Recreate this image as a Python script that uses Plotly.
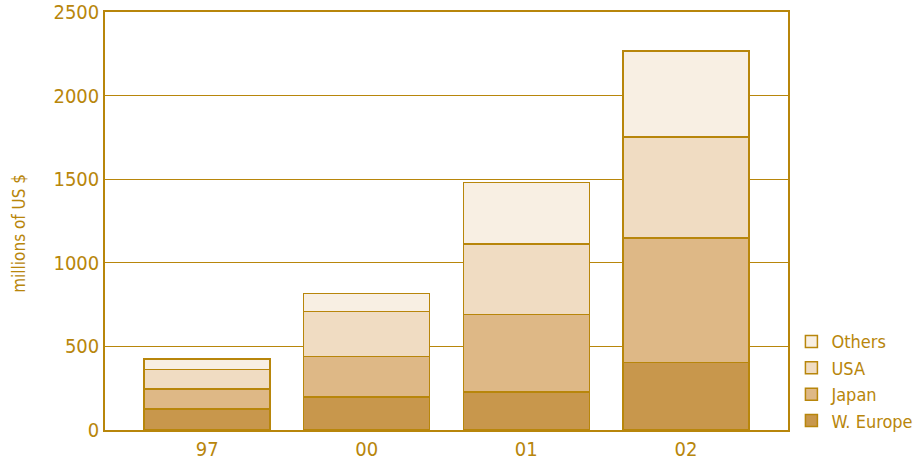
import plotly.graph_objects as go

# data
years = ["97", "00", "01", "02"]
w_europe = [125, 197, 227, 405]
japan = [120, 244, 465, 743]
usa = [118, 269, 419, 604]
others = [63, 105, 368, 515]

GOLD = "#B8860B"
FONT = "DejaVu Sans Condensed, Liberation Sans Narrow, Arial Narrow, sans-serif"
series = [
    ("W. Europe", w_europe, "#C8974C"),
    ("Japan", japan, "#DEB886"),
    ("USA", usa, "#F0DCC2"),
    ("Others", others, "#F8EFE3"),
]

fig = go.Figure()
for name, vals, color in series:
    fig.add_trace(go.Bar(
        name=name,
        x=years,
        y=vals,
        width=0.79,
        marker=dict(color=color, line=dict(color=GOLD, width=1.5)),
    ))

fig.update_layout(
    barmode="stack",
    width=919,
    height=462,
    paper_bgcolor="white",
    plot_bgcolor="white",
    font=dict(family=FONT, color=GOLD, size=20),
    margin=dict(l=105, r=131, t=12, b=32, autoexpand=False),
    legend=dict(
        x=1.005, xanchor="left", y=-0.022, yanchor="bottom",
        traceorder="reversed",
        font=dict(size=18, color=GOLD),
        bgcolor="rgba(0,0,0,0)",
        itemwidth=30,
        tracegroupgap=0,
    ),
    showlegend=True,
)
fig.update_xaxes(
    range=[-0.64, 3.64], automargin=False,
    showline=True, linecolor=GOLD, linewidth=1.5, mirror=True,
    ticks="", tickfont=dict(size=20, color=GOLD),
)
fig.update_yaxes(
    range=[0, 2500], dtick=500, automargin=False,
    showline=True, linecolor=GOLD, linewidth=1.5, mirror=True,
    showgrid=True, gridcolor=GOLD, gridwidth=1.2,
    zeroline=False,
    tickfont=dict(size=20, color=GOLD),
)

# y title sits a little below the plot's middle in the reference
fig.add_annotation(
    text="millions of US $", textangle=-90,
    xref="paper", yref="paper", x=-0.127, y=0.47,
    xanchor="center", yanchor="middle", showarrow=False,
    font=dict(size=17, color=GOLD),
)

# drop the page's default body margin so the figure sits at the window's corner
fig.write_html(
    "out.html",
    config={"displayModeBar": False},
    post_script="document.body.style.margin='0';",
)
